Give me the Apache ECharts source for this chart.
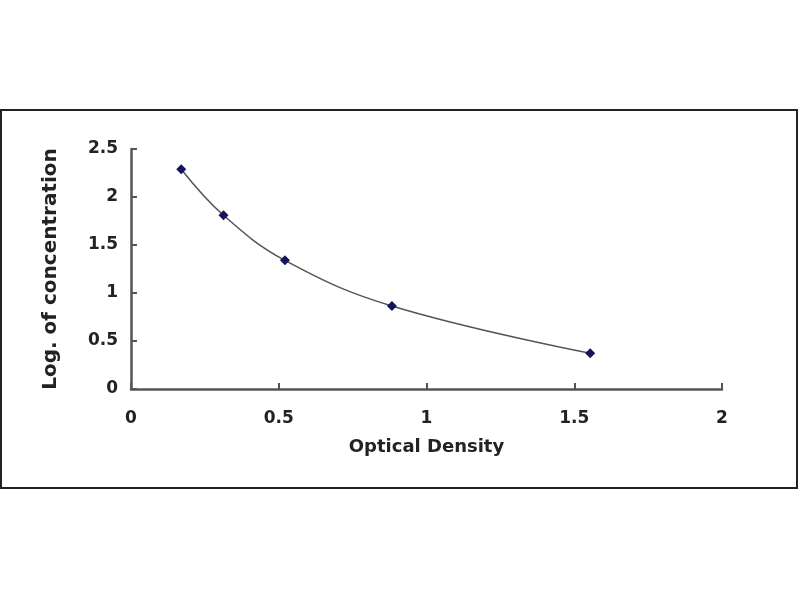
<!DOCTYPE html>
<html>
<head>
<meta charset="utf-8">
<script src="https://cdn.jsdelivr.net/npm/echarts@6/dist/echarts.min.js"></script>
<style>html,body{margin:0;padding:0;background:#fff}#c{width:800px;height:600px}</style>
</head>
<body>
<div id="c"></div>
<script>
var opticalDensity = [0.170, 0.313, 0.521, 0.883, 1.554];
var logConcentration = [2.29, 1.81, 1.34, 0.865, 0.372];
var xTicks = [0, 0.5, 1, 1.5, 2];
var yTicks = [0, 0.5, 1, 1.5, 2, 2.5];
var xTitle = 'Optical Density';
var yTitle = 'Log. of concentration';

var pts = opticalDensity.map(function (x, i) { return [x, logConcentration[i]]; });
var fontFam = 'DejaVu Sans';
var chart = echarts.init(document.getElementById('c'));
chart.setOption({
  animation: false,
  backgroundColor: '#fff',
  graphic: [{
    type: 'rect',
    shape: { x: 1, y: 110, width: 796, height: 378 },
    style: { fill: 'none', stroke: '#222', lineWidth: 2 },
    silent: true
  }],
  grid: { left: 131, right: 78, top: 149, bottom: 211 },
  xAxis: {
    type: 'value', min: 0, max: 2, interval: 0.5,
    name: xTitle, nameLocation: 'middle', nameGap: 49,
    nameTextStyle: { fontFamily: fontFam, fontWeight: 'bold', fontSize: 18, color: '#222' },
    axisLine: { show: true, lineStyle: { color: '#555', width: 2.5 } },
    axisTick: { show: true, inside: true, length: 6, lineStyle: { color: '#555', width: 2 } },
    axisLabel: { fontFamily: fontFam, fontWeight: 'bold', fontSize: 17, color: '#222', margin: 21,
      formatter: function (v) { return String(v); } },
    splitLine: { show: false }
  },
  yAxis: {
    type: 'value', min: 0, max: 2.5, interval: 0.5,
    name: yTitle, nameLocation: 'middle', nameGap: 70,
    nameTextStyle: { fontFamily: fontFam, fontWeight: 'bold', fontSize: 20, color: '#222' },
    axisLine: { show: true, lineStyle: { color: '#555', width: 2.5 } },
    axisTick: { show: true, inside: true, length: 6, lineStyle: { color: '#555', width: 2 } },
    axisLabel: { fontFamily: fontFam, fontWeight: 'bold', fontSize: 17, color: '#222', margin: 13,
      formatter: function (v) { return String(v); } },
    splitLine: { show: false }
  },
  series: [{
    type: 'line',
    data: pts,
    smooth: 0.4,
    symbol: 'diamond',
    symbolSize: 10,
    itemStyle: { color: '#14145a' },
    lineStyle: { color: '#555', width: 1.5 }
  }]
});
</script>
</body>
</html>
